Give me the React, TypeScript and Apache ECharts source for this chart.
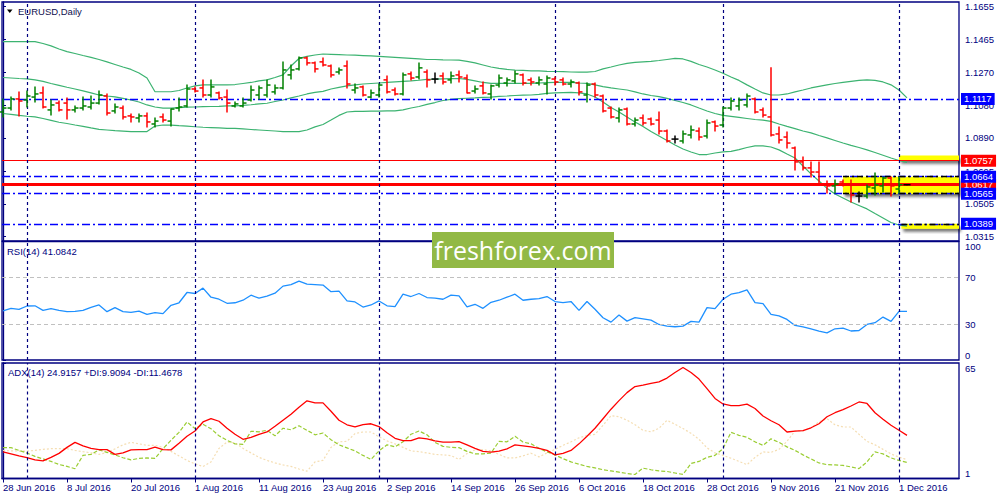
import React, { useEffect, useRef } from "react";
import * as echarts from "echarts";

// ---------- DATA ----------
const tickBars = [0, 8, 16, 24, 32, 40, 48, 56, 64, 72, 80, 88, 96, 104, 112];
const tickLabels = [
  "28 Jun 2016", "8 Jul 2016", "20 Jul 2016", "1 Aug 2016", "11 Aug 2016", "23 Aug 2016",
  "2 Sep 2016", "14 Sep 2016", "26 Sep 2016", "6 Oct 2016", "18 Oct 2016", "28 Oct 2016",
  "9 Nov 2016", "21 Nov 2016", "1 Dec 2016",
];
const monthStartBars = [3, 24, 47, 69, 90, 112];
const priceTicks = [1.1655, 1.1465, 1.127, 1.108, 1.089, 1.0695, 1.0505, 1.0315];
const rsiTicks = [0, 30, 70, 100];
const rsiLevels = [70, 30];
const adxTicks = [1, 65];

const openP = [
  1.1041, 1.1064, 1.1117, 1.1111, 1.1128, 1.1152, 1.1053, 1.1093, 1.1093, 1.1053,
  1.1064, 1.1070, 1.1093, 1.1134, 1.1047, 1.1064, 1.1018, 1.1006, 1.1018, 1.0971,
  1.1012, 1.0988, 1.1064, 1.1076, 1.1175, 1.1181, 1.1140, 1.1152, 1.1128, 1.1076,
  1.1076, 1.1111, 1.1140, 1.1140, 1.1158, 1.1181, 1.1257, 1.1292, 1.1356, 1.1327,
  1.1333, 1.1309, 1.1274, 1.1309, 1.1169, 1.1187, 1.1128, 1.1140, 1.1228, 1.1169,
  1.1146, 1.1263, 1.1245, 1.1274, 1.1233, 1.1251, 1.1228, 1.1257, 1.1239, 1.1163,
  1.1193, 1.1146, 1.1198, 1.1210, 1.1222, 1.1257, 1.1228, 1.1210, 1.1204, 1.1233,
  1.1228, 1.1204, 1.1210, 1.1140, 1.1204, 1.1134, 1.1064, 1.1006, 1.1058, 1.0971,
  1.1006, 1.1000, 1.0994, 1.0930, 1.0883, 1.0872, 1.0907, 1.0930, 1.0901, 1.0983,
  1.0965, 1.1064, 1.1076, 1.1082, 1.1117, 1.1053, 1.1012, 1.0913, 1.0895, 1.0831,
  1.0750, 1.0715, 1.0691, 1.0621, 1.0610, 1.0633, 1.0621, 1.0551, 1.0551, 1.0598,
  1.0610, 1.0656, 1.0592, 1.0617,
];
const highP = [
  1.1117, 1.1128, 1.1158, 1.1163, 1.1187, 1.1187, 1.1111, 1.1105, 1.1123, 1.1076,
  1.1128, 1.1134, 1.1163, 1.1146, 1.1088, 1.1076, 1.1029, 1.1029, 1.1035, 1.1006,
  1.1029, 1.1058, 1.1123, 1.1198, 1.1187, 1.1228, 1.1228, 1.1158, 1.1169, 1.1099,
  1.1123, 1.1193, 1.1193, 1.1228, 1.1198, 1.1333, 1.1315, 1.1362, 1.1362, 1.1333,
  1.1356, 1.1315, 1.1298, 1.1338, 1.1204, 1.1193, 1.1169, 1.1204, 1.1251, 1.1181,
  1.1268, 1.1274, 1.1327, 1.1286, 1.1268, 1.1268, 1.1274, 1.1280, 1.1257, 1.1193,
  1.1216, 1.1198, 1.1257, 1.1239, 1.1280, 1.1263, 1.1239, 1.1245, 1.1251, 1.1245,
  1.1239, 1.1228, 1.1216, 1.1210, 1.1210, 1.1140, 1.1070, 1.1064, 1.1064, 1.1006,
  1.1023, 1.1006, 1.1041, 1.0936, 1.0901, 1.0930, 1.0959, 1.0948, 1.0994, 1.0988,
  1.1070, 1.1123, 1.1123, 1.1146, 1.1123, 1.1064, 1.1299, 1.0953, 1.0924, 1.0837,
  1.0779, 1.0750, 1.0750, 1.0639, 1.0645, 1.0645, 1.0645, 1.0575, 1.0615, 1.0685,
  1.0662, 1.0662, 1.0662, 1.0617,
];
const lowP = [
  1.1012, 1.1053, 1.1018, 1.1070, 1.1099, 1.1064, 1.1023, 1.1047, 1.1000, 1.1041,
  1.1053, 1.1058, 1.1088, 1.1023, 1.1035, 1.1000, 1.0983, 1.0983, 1.0953, 1.0953,
  1.0983, 1.0959, 1.1047, 1.1070, 1.1158, 1.1128, 1.1128, 1.1117, 1.1041, 1.1070,
  1.1070, 1.1105, 1.1117, 1.1128, 1.1146, 1.1175, 1.1233, 1.1286, 1.1315, 1.1274,
  1.1309, 1.1245, 1.1263, 1.1181, 1.1152, 1.1134, 1.1123, 1.1128, 1.1152, 1.1140,
  1.1140, 1.1228, 1.1233, 1.1187, 1.1210, 1.1204, 1.1210, 1.1216, 1.1152, 1.1152,
  1.1146, 1.1117, 1.1187, 1.1193, 1.1210, 1.1198, 1.1198, 1.1198, 1.1146, 1.1198,
  1.1198, 1.1187, 1.1140, 1.1099, 1.1128, 1.1041, 1.1006, 1.0983, 1.0965, 1.0959,
  1.0965, 1.0965, 1.0913, 1.0866, 1.0860, 1.0860, 1.0889, 1.0878, 1.0889, 1.0930,
  1.0953, 1.1053, 1.1053, 1.1070, 1.1035, 1.1012, 1.0901, 1.0860, 1.0831, 1.0703,
  1.0703, 1.0662, 1.0615, 1.0569, 1.0569, 1.0610, 1.0516, 1.0516, 1.0540, 1.0557,
  1.0575, 1.0551, 1.0569, 1.0617,
];
const closeP = [
  1.1064, 1.1117, 1.1105, 1.1134, 1.1146, 1.1070, 1.1082, 1.1053, 1.1053, 1.1064,
  1.1076, 1.1093, 1.1140, 1.1035, 1.1070, 1.1012, 1.1012, 1.1018, 1.0983, 1.0988,
  1.0994, 1.1058, 1.1070, 1.1175, 1.1163, 1.1140, 1.1187, 1.1123, 1.1093, 1.1088,
  1.1093, 1.1169, 1.1181, 1.1198, 1.1181, 1.1286, 1.1286, 1.1356, 1.1327, 1.1292,
  1.1315, 1.1257, 1.1286, 1.1204, 1.1181, 1.1140, 1.1152, 1.1198, 1.1158, 1.1146,
  1.1257, 1.1239, 1.1298, 1.1228, 1.1233, 1.1216, 1.1251, 1.1245, 1.1152, 1.1175,
  1.1152, 1.1193, 1.1239, 1.1228, 1.1263, 1.1210, 1.1216, 1.1228, 1.1239, 1.1216,
  1.1204, 1.1216, 1.1158, 1.1198, 1.1140, 1.1047, 1.1012, 1.1053, 1.0971, 1.0994,
  1.0977, 1.0971, 1.0930, 1.0872, 1.0883, 1.0913, 1.0936, 1.0895, 1.0977, 1.0959,
  1.1064, 1.1105, 1.1111, 1.1134, 1.1041, 1.1023, 1.0907, 1.0878, 1.0860, 1.0750,
  1.0715, 1.0691, 1.0621, 1.0610, 1.0621, 1.0621, 1.0557, 1.0551, 1.0604, 1.0615,
  1.0656, 1.0610, 1.0617, 1.0617,
];

const bbUpper = [
  1.1451, 1.1451, 1.1451, 1.1451, 1.1451, 1.1440, 1.1426, 1.1408, 1.1393, 1.1382,
  1.1370, 1.1359, 1.1347, 1.1333, 1.1318, 1.1303, 1.1289, 1.1268, 1.1239, 1.1159,
  1.1159, 1.1159, 1.1166, 1.1181, 1.1193, 1.1199, 1.1199, 1.1199, 1.1199, 1.1201,
  1.1207, 1.1213, 1.1222, 1.1228, 1.1242, 1.1257, 1.1309, 1.1353, 1.1365, 1.1373,
  1.1379, 1.1377, 1.1375, 1.1373, 1.1372, 1.1370, 1.1368, 1.1365, 1.1362, 1.1359,
  1.1356, 1.1353, 1.1350, 1.1347, 1.1347, 1.1345, 1.1344, 1.1343, 1.1336, 1.1327,
  1.1315, 1.1303, 1.1295, 1.1289, 1.1285, 1.1283, 1.1281, 1.1280, 1.1278, 1.1277,
  1.1276, 1.1274, 1.1273, 1.1273, 1.1277, 1.1292, 1.1303, 1.1315, 1.1324, 1.1330,
  1.1333, 1.1336, 1.1341, 1.1347, 1.1353, 1.1350, 1.1336, 1.1318, 1.1303, 1.1286,
  1.1267, 1.1245, 1.1225, 1.1199, 1.1175, 1.1152, 1.1140, 1.1140, 1.1146, 1.1158,
  1.1169, 1.1181, 1.1190, 1.1199, 1.1207, 1.1213, 1.1219, 1.1225, 1.1228, 1.1225,
  1.1216, 1.1199, 1.1169, 1.1123,
];
const bbMiddle = [
  1.1242, 1.1239, 1.1236, 1.1234, 1.1228, 1.1219, 1.1207, 1.1196, 1.1185, 1.1175,
  1.1164, 1.1152, 1.1140, 1.1134, 1.1129, 1.1120, 1.1111, 1.1099, 1.1082, 1.1070,
  1.1064, 1.1063, 1.1066, 1.1069, 1.1070, 1.1072, 1.1073, 1.1074, 1.1076, 1.1076,
  1.1079, 1.1083, 1.1088, 1.1092, 1.1102, 1.1111, 1.1123, 1.1134, 1.1146, 1.1155,
  1.1161, 1.1175, 1.1184, 1.1193, 1.1199, 1.1204, 1.1207, 1.1210, 1.1213, 1.1216,
  1.1219, 1.1222, 1.1226, 1.1231, 1.1232, 1.1234, 1.1235, 1.1236, 1.1231, 1.1222,
  1.1213, 1.1208, 1.1208, 1.1208, 1.1208, 1.1208, 1.1208, 1.1210, 1.1212, 1.1213,
  1.1214, 1.1213, 1.1210, 1.1208, 1.1199, 1.1189, 1.1181, 1.1175, 1.1169, 1.1158,
  1.1146, 1.1137, 1.1130, 1.1120, 1.1108, 1.1096, 1.1082, 1.1064, 1.1047, 1.1032,
  1.1021, 1.1015, 1.1009, 1.1003, 1.0997, 1.0993, 1.0986, 1.0971, 1.0957, 1.0944,
  1.0930, 1.0919, 1.0904, 1.0890, 1.0875, 1.0860, 1.0846, 1.0834, 1.0820, 1.0805,
  1.0789, 1.0773, 1.0758, 1.0747,
];
const bbLower = [
  1.1032, 1.1027, 1.1021, 1.1016, 1.1012, 1.1003, 1.0992, 1.0981, 1.0974, 1.0965,
  1.0957, 1.0948, 1.0940, 1.0936, 1.0932, 1.0929, 1.0926, 1.0926, 1.0927, 1.0959,
  1.0965, 1.0964, 1.0961, 1.0959, 1.0955, 1.0952, 1.0950, 1.0948, 1.0946, 1.0945,
  1.0942, 1.0939, 1.0936, 1.0933, 1.0930, 1.0927, 1.0926, 1.0926, 1.0936, 1.0954,
  1.0968, 1.0994, 1.1021, 1.1041, 1.1044, 1.1045, 1.1046, 1.1046, 1.1047, 1.1047,
  1.1053, 1.1064, 1.1073, 1.1085, 1.1096, 1.1108, 1.1114, 1.1119, 1.1121, 1.1123,
  1.1126, 1.1128, 1.1132, 1.1134, 1.1137, 1.1139, 1.1140, 1.1144, 1.1149, 1.1152,
  1.1154, 1.1155, 1.1152, 1.1146, 1.1128, 1.1099, 1.1067, 1.1041, 1.1012, 1.0983,
  1.0957, 1.0927, 1.0901, 1.0875, 1.0849, 1.0825, 1.0808, 1.0793, 1.0793, 1.0802,
  1.0808, 1.0811, 1.0822, 1.0834, 1.0843, 1.0843, 1.0837, 1.0820, 1.0796, 1.0773,
  1.0726, 1.0680, 1.0639, 1.0596, 1.0563, 1.0540, 1.0516, 1.0496, 1.0476, 1.0449,
  1.0423, 1.0397, 1.0382, 1.0376,
];

const rsi14 = [
  41.49, 43.62, 42.77, 45.57, 45.74, 41.92, 43.36, 41.92, 40.81, 41.06,
  41.92, 44.47, 46.43, 40.81, 44.21, 40.81, 40.21, 41.32, 38.51, 39.96,
  39.11, 46.17, 48.3, 56.98, 56.13, 60.64, 52.98, 51.28, 47.87, 48.3,
  50.43, 54.68, 52.13, 53.83, 56.38, 62.34, 63.62, 66.6, 64.04, 63.62,
  63.19, 57.66, 58.09, 49.83, 48.98, 44.72, 46.43, 49.83, 45.74, 45.07,
  55.53, 53.58, 56.13, 52.72, 52.13, 51.28, 54.68, 54.09, 44.89, 47.02,
  43.62, 48.72, 50.43, 52.98, 55.53, 50.43, 51.28, 51.87, 53.58, 49.32,
  48.47, 49.32, 41.92, 49.32, 42.77, 35.7, 31.96, 37.92, 32.81, 35.7,
  34.68, 33.66, 30.0, 28.55, 28.04, 28.55, 32.55, 31.96, 44.21, 43.36,
  51.28, 55.53, 56.81, 59.19, 48.47, 47.62, 38.51, 37.23, 34.26, 29.15,
  28.04, 26.17, 24.3, 22.93, 26.34, 26.85, 24.47, 24.89, 30.0, 31.45,
  36.21, 32.55, 41.0, 41.0842,
];
const adx14 = [
  15.75, 14.64, 13.52, 12.52, 11.3, 10.74, 12.69, 14.92, 18.25, 21.04,
  19.09, 17.7, 16.97, 16.97, 14.36, 15.19, 16.86, 16.97, 16.97, 18.42,
  16.97, 16.86, 20.48, 24.38, 27.33, 32.33, 34.23, 32.72, 28.83, 25.49,
  22.71, 23.82, 25.49, 26.77, 29.94, 33.28, 36.62, 40.51, 44.02, 42.91,
  42.91, 38.29, 33.28, 30.78, 29.55, 30.89, 31.33, 29.77, 26.32, 23.26,
  22.04, 21.98, 23.54, 22.98, 21.87, 21.2, 21.2, 21.43, 19.65, 17.7,
  16.03, 15.64, 16.14, 17.42, 19.65, 19.09, 18.53, 17.7, 16.58, 14.08,
  14.92, 16.58, 20.2, 24.38, 28.83, 34.12, 39.4, 44.13, 48.58, 51.92,
  52.76, 53.7, 54.54, 56.65, 59.71, 62.5, 59.71, 56.1, 50.81, 45.36,
  42.3, 41.35, 41.35, 42.18, 39.79, 35.62, 33.0, 30.78, 26.77, 27.27,
  27.55, 29.11, 31.33, 35.23, 37.45, 39.12, 41.18, 43.41, 42.57, 37.45,
  33.84, 30.5, 27.71, 24.9157,
];
const plusDI = [
  18.09, 18.09, 16.58, 15.08, 13.25, 11.85, 10.46, 8.79, 7.68, 6.4,
  13.8, 14.36, 16.86, 15.47, 14.08, 12.52, 11.3, 12.13, 12.41, 12.13,
  17.53, 22.15, 26.6, 32.33, 28.66, 31.05, 28.55, 24.65, 22.15, 20.2,
  19.92, 27.16, 26.88, 27.71, 24.65, 28.83, 27.99, 30.22, 27.71, 25.21,
  26.21, 22.43, 19.65, 17.98, 16.31, 13.8, 11.58, 16.31, 19.65, 18.53,
  21.32, 25.49, 27.33, 25.21, 21.04, 18.81, 18.25, 18.09, 16.03, 14.64,
  14.64, 15.08, 21.59, 21.32, 24.38, 21.2, 20.2, 17.7, 15.75, 14.08,
  11.97, 10.19, 8.91, 7.68, 6.85, 5.85, 5.18, 4.51, 3.79, 3.23,
  6.74, 5.85, 5.18, 4.9, 4.06, 3.23, 9.35, 10.46, 12.69, 13.8,
  17.53, 26.6, 24.93, 23.82, 21.32, 19.37, 22.98, 21.04, 18.53, 16.58,
  14.08, 11.85, 9.63, 8.68, 8.52, 8.24, 7.4, 6.46, 10.19, 15.75,
  14.64, 12.41, 11.02, 9.9094,
];
const minusDI = [
  16.58, 16.31, 16.2, 16.2, 16.58, 17.14, 17.53, 17.53, 17.53, 16.58,
  15.86, 15.19, 14.36, 15.47, 17.42, 19.65, 21.04, 20.2, 19.37, 19.37,
  18.25, 16.03, 13.52, 11.02, 9.07, 7.68, 10.19, 17.7, 21.2, 20.76,
  17.7, 15.19, 12.69, 11.02, 9.63, 8.52, 7.68, 6.29, 5.06, 10.19,
  11.02, 18.25, 21.32, 21.59, 25.88, 26.77, 26.77, 24.1, 21.87, 20.2,
  18.25, 16.31, 15.86, 15.19, 14.36, 14.08, 13.69, 11.58, 14.8, 16.86,
  16.97, 16.31, 14.36, 12.41, 12.41, 13.52, 15.03, 12.97, 15.19, 17.14,
  19.37, 21.32, 23.54, 24.82, 25.49, 30.5, 35.78, 35.23, 33.28, 30.78,
  27.71, 26.88, 28.83, 33.28, 31.05, 28.66, 26.05, 22.71, 17.98, 15.19,
  13.8, 12.24, 10.46, 8.63, 12.69, 15.75, 15.47, 17.14, 21.59, 27.33,
  27.33, 29.11, 32.45, 34.12, 30.78, 29.55, 29.55, 25.49, 21.59, 19.65,
  17.14, 14.64, 12.86, 11.4678,
];

// horizontal levels drawn on the price chart
const blueLevels = [1.1117, 1.0664, 1.0565, 1.0389];
const redLevel = 1.0757;
const bidLevel = 1.0617;
// yellow zones: [fromBar, topPrice, toBar, bottomPrice]
const zones = [
  [112, 1.0788, 119.5, 1.0757],
  [105, 1.0664, 119.5, 1.0565],
  [112.3, 1.0389, 119.5, 1.036],
];
const zoneEdges = [
  [105, 119.5, 1.0664],
  [105, 119.5, 1.0565],
  [112.3, 119.5, 1.0389],
];

// ---------- STYLE ----------
const FONT = '"Liberation Sans", Arial, sans-serif';
const NAVY = "#000080";
const XMIN = -0.125;
const XMAX = 119.5;

function buildOption() {
  const ohlc = openP.map((o, i) => [i, o, highP[i], lowP[i], closeP[i]]);
  const pair = (arr: number[]) => arr.map((v, i) => [i, v]);
  const sepLines = monthStartBars.map((b) => ({
    xAxis: b,
    lineStyle: { color: NAVY, width: 1.2, type: [3, 3] },
    label: { show: false },
  }));
  const lvlLabel = (v: number, bg: string) => ({
    show: true,
    position: "end",
    distance: 2,
    formatter: v.toFixed(4),
    backgroundColor: bg,
    color: "#ffffff",
    fontSize: 9.5,
    fontFamily: FONT,
    padding: [1, 3, 0, 3],
    lineHeight: 11,
  });
  const levelData: any[] = [
    { yAxis: redLevel, lineStyle: { color: "#ff0000", width: 1, type: "solid" }, label: lvlLabel(redLevel, "#ff0000") },
    { yAxis: bidLevel, lineStyle: { color: "#ff0000", width: 3, type: "solid" }, label: lvlLabel(bidLevel, "#ff0000") },
    ...blueLevels.map((v) => ({
      yAxis: v,
      lineStyle: { color: "#0000ff", width: 1.4, type: [8, 3, 2, 3] },
      label: lvlLabel(v, "#0000ff"),
    })),
    ...zoneEdges.map((e) => [
      { coord: [e[0], e[2]], lineStyle: { color: "#000000", width: 1.4, type: [6, 3, 2, 3] }, label: { show: false } },
      { coord: [e[1], e[2]] },
    ]),
    ...sepLines,
  ];

  const gridBase = {
    left: 2,
    width: 957,
    show: true,
    borderColor: NAVY,
    borderWidth: 1.3,
    backgroundColor: "#ffffff",
    containLabel: false,
    outerBoundsMode: "none",
  };
  const hiddenX = (gi: number) => ({
    type: "value",
    gridIndex: gi,
    min: XMIN,
    max: XMAX,
    splitLine: { show: false },
    axisLine: { show: false },
    axisTick: { show: false },
    axisLabel: { show: false },
  });
  const yBase = (gi: number, min: number, max: number, ticks: number[], fmt: (v: number) => string, extra: any = {}) => ({
    type: "value",
    gridIndex: gi,
    position: "right",
    min,
    max,
    splitLine: { show: false },
    axisLine: { show: true, lineStyle: { color: NAVY, width: 1.3 } },
    axisTick: { show: true, length: 3, customValues: ticks, lineStyle: { color: NAVY } },
    axisLabel: {
      show: true,
      customValues: ticks,
      formatter: fmt,
      color: NAVY,
      fontSize: 9.5,
      fontFamily: FONT,
      margin: 6,
      ...extra,
    },
  });

  return {
    animation: false,
    backgroundColor: "#ffffff",
    grid: [
      { ...gridBase, top: 2, height: 239 },
      { ...gridBase, top: 241.5, height: 118.5 },
      { ...gridBase, top: 363, height: 115.5 },
    ],
    xAxis: [
      hiddenX(0),
      hiddenX(1),
      {
        ...hiddenX(2),
        axisLine: { show: true, lineStyle: { color: NAVY, width: 1.3 } },
        axisTick: { show: true, length: 4, customValues: tickBars, lineStyle: { color: NAVY } },
        axisLabel: {
          show: true,
          customValues: tickBars,
          formatter: (v: number) => {
            const k = tickBars.indexOf(Math.round(v));
            return k >= 0 ? tickLabels[k] : "";
          },
          align: "left",
          margin: 4,
          color: NAVY,
          fontSize: 9.5,
          fontFamily: FONT,
        },
      },
    ],
    yAxis: [
      yBase(0, 1.0289, 1.1682, priceTicks, (v) => v.toFixed(4)),
      yBase(1, 0, 100, rsiTicks, (v) => String(Math.round(v)), {
        verticalAlignMinLabel: "bottom",
        verticalAlignMaxLabel: "top",
      }),
      yBase(2, 1, 65, adxTicks, (v) => String(Math.round(v)), {
        verticalAlignMinLabel: "bottom",
        verticalAlignMaxLabel: "top",
      }),
    ],
    series: [
      {
        name: "zones",
        type: "line",
        xAxisIndex: 0,
        yAxisIndex: 0,
        data: [],
        z: 1,
        silent: true,
        markArea: {
          silent: true,
          itemStyle: {
            color: "#ffff00",
            shadowBlur: 3,
            shadowOffsetX: 2,
            shadowOffsetY: 3,
            shadowColor: "rgba(0,0,0,0.55)",
          },
          data: zones.map((z) => [{ coord: [z[0], z[1]] }, { coord: [z[2], z[3]] }]),
        },
      },
      {
        name: "levels",
        type: "line",
        xAxisIndex: 0,
        yAxisIndex: 0,
        data: [],
        z: 2,
        silent: true,
        markLine: {
          silent: true,
          precision: 4,
          symbol: ["none", "none"],
          data: levelData,
        },
      },
      ...[bbUpper, bbMiddle, bbLower].map((arr) => ({
        type: "line",
        xAxisIndex: 0,
        yAxisIndex: 0,
        data: pair(arr),
        showSymbol: false,
        symbol: "none",
        z: 4,
        silent: true,
        lineStyle: { color: "#3cb371", width: 1.2 },
      })),
      {
        name: "EURUSD",
        type: "custom",
        xAxisIndex: 0,
        yAxisIndex: 0,
        z: 5,
        silent: true,
        data: ohlc,
        encode: { x: 0, y: [1, 2, 3, 4] },
        renderItem: (params: any, api: any) => {
          const i = api.value(0);
          const o = api.value(1);
          const h = api.value(2);
          const l = api.value(3);
          const c = api.value(4);
          const pH = api.coord([i, h]);
          const pL = api.coord([i, l]);
          const pO = api.coord([i, o]);
          const pC = api.coord([i, c]);
          const color = c > o ? "#008000" : c < o ? "#ff0000" : "#000000";
          const st = { stroke: color, lineWidth: 1.5 };
          return {
            type: "group",
            children: [
              { type: "line", shape: { x1: pH[0], y1: pH[1] - 0.5, x2: pL[0], y2: pL[1] + 0.5 }, style: st },
              { type: "line", shape: { x1: pO[0] - 3.5, y1: pO[1], x2: pO[0], y2: pO[1] }, style: st },
              { type: "line", shape: { x1: pC[0], y1: pC[1], x2: pC[0] + 3.5, y2: pC[1] }, style: st },
            ],
          };
        },
      },
      {
        name: "RSI",
        type: "line",
        xAxisIndex: 1,
        yAxisIndex: 1,
        data: pair(rsi14),
        showSymbol: false,
        symbol: "none",
        silent: true,
        lineStyle: { color: "#1e90ff", width: 1.3 },
        markLine: {
          silent: true,
          precision: 4,
          symbol: ["none", "none"],
          data: [
            ...rsiLevels.map((v) => ({
              yAxis: v,
              lineStyle: { color: "#c0c0c0", width: 1, type: [4, 3] },
              label: { show: false },
            })),
            ...sepLines,
          ],
        },
      },
      {
        name: "-DI",
        type: "line",
        xAxisIndex: 2,
        yAxisIndex: 2,
        data: pair(minusDI),
        showSymbol: false,
        symbol: "none",
        silent: true,
        lineStyle: { color: "#f5deb3", width: 1.2, type: [2, 2] },
      },
      {
        name: "+DI",
        type: "line",
        xAxisIndex: 2,
        yAxisIndex: 2,
        data: pair(plusDI),
        showSymbol: false,
        symbol: "none",
        silent: true,
        lineStyle: { color: "#9acd32", width: 1.2, type: [4, 2] },
      },
      {
        name: "ADX",
        type: "line",
        xAxisIndex: 2,
        yAxisIndex: 2,
        data: pair(adx14),
        showSymbol: false,
        symbol: "none",
        silent: true,
        lineStyle: { color: "#ff0000", width: 1.3 },
        markLine: {
          silent: true,
          symbol: ["none", "none"],
          data: sepLines,
        },
      },
    ],
    graphic: [
      {
        type: "polygon",
        shape: { points: [[7, 9.5], [12.5, 9.5], [9.75, 13]] },
        style: { fill: "#000000" },
        z: 50,
      },
      {
        type: "text",
        x: 18,
        y: 11.5,
        z: 50,
        style: { text: "EURUSD,Daily", fontSize: 9.5, fontFamily: FONT, fill: "#101050", verticalAlign: "middle" },
      },
      {
        type: "text",
        x: 7,
        y: 251,
        z: 50,
        style: {
          text: `RSI(14) ${rsi14[rsi14.length - 1].toFixed(4)}`,
          fontSize: 9.5,
          fontFamily: FONT,
          fill: NAVY,
          verticalAlign: "middle",
        },
      },
      {
        type: "text",
        x: 8,
        y: 372,
        z: 50,
        style: {
          text: `ADX(14) ${adx14[adx14.length - 1].toFixed(4)} +DI:${plusDI[plusDI.length - 1].toFixed(4)} -DI:${minusDI[minusDI.length - 1].toFixed(4)}`,
          fontSize: 9.5,
          fontFamily: FONT,
          fill: NAVY,
          verticalAlign: "middle",
        },
      },
      {
        type: "group",
        z: 100,
        children: [
          { type: "rect", shape: { x: 432, y: 232, width: 182, height: 36 }, style: { fill: "#92b945" }, z: 100 },
          {
            type: "text",
            x: 523,
            y: 249.5,
            z: 101,
            style: {
              text: "freshforex.com",
              fontSize: 25,
              fontFamily: '"Open Sans", "Noto Sans", sans-serif',
              fill: "#ffffff",
              align: "center",
              verticalAlign: "middle",
            },
          },
        ],
      },
    ],
  };
}

export default function App() {
  const ref = useRef<HTMLDivElement>(null);
  useEffect(() => {
    if (!ref.current) return;
    const chart = echarts.init(ref.current, null, { renderer: "svg" });
    chart.setOption(buildOption() as any);
    return () => chart.dispose();
  }, []);
  return (
    <div
      ref={ref}
      style={{ position: "fixed", left: 0, top: 0, width: 1000, height: 500, background: "#ffffff" }}
    />
  );
}
